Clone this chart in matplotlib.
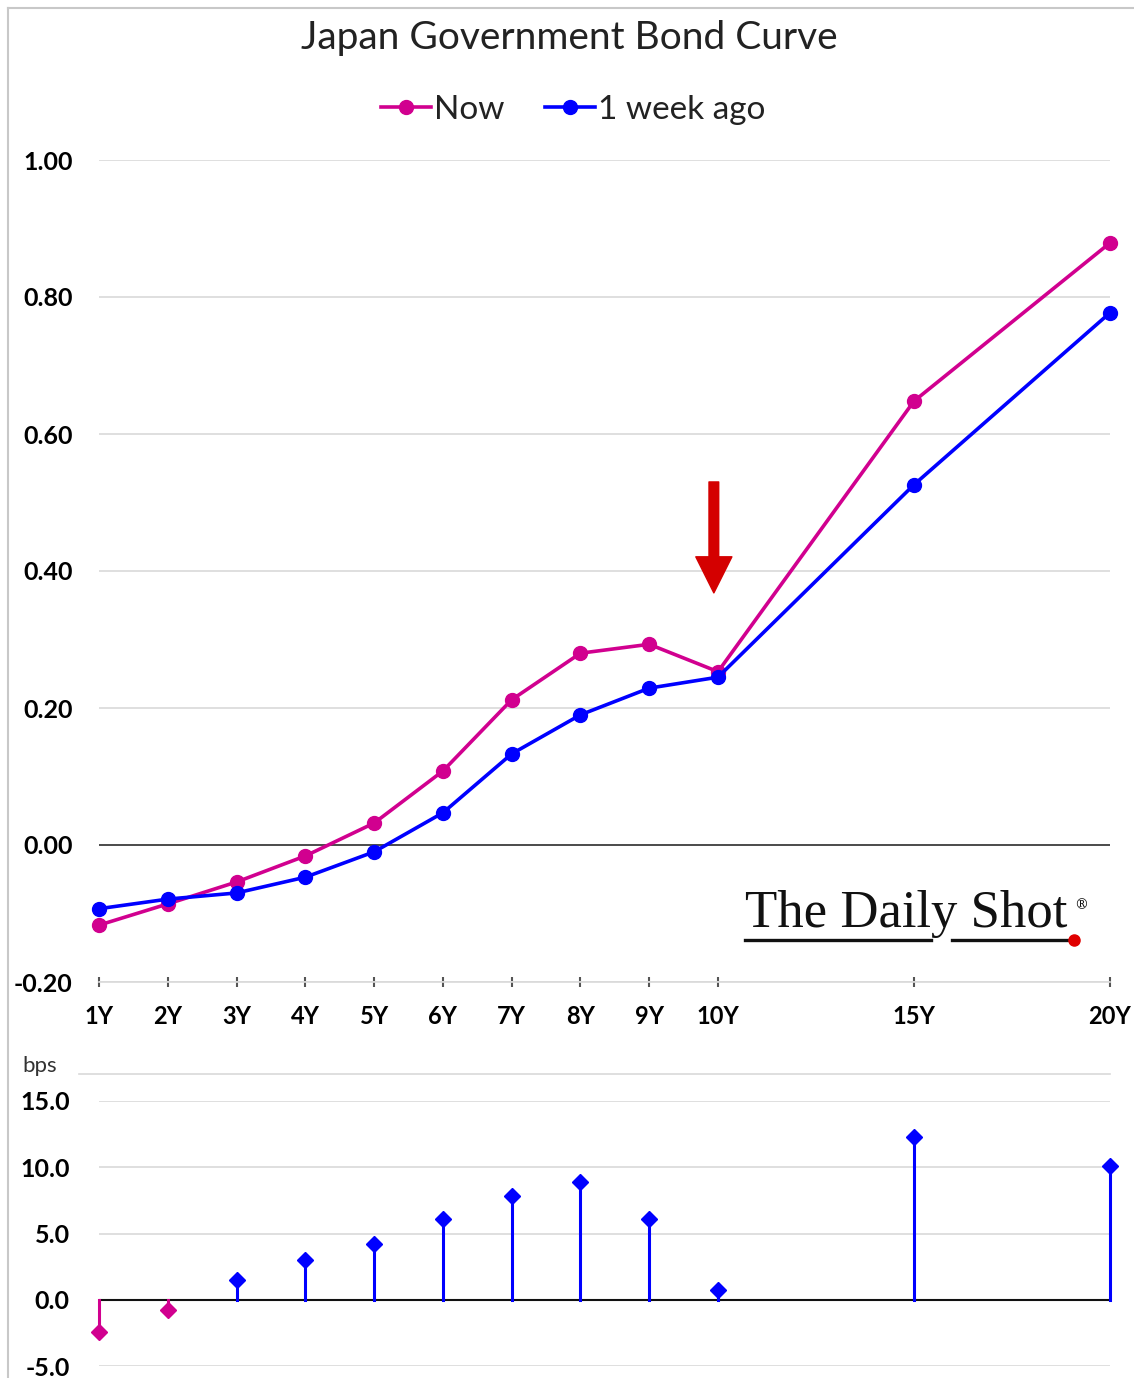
import numpy as np
import matplotlib.pyplot as plt
from matplotlib.lines import Line2D

plt.rcParams['font.family'] = ['Lato', 'DejaVu Sans']

# data
tenors = [1, 2, 3, 4, 5, 6, 7, 8, 9, 10, 15, 20]
labels = ['1Y', '2Y', '3Y', '4Y', '5Y', '6Y', '7Y', '8Y', '9Y', '10Y', '15Y', '20Y']
now = [-0.117, -0.086, -0.054, -0.016, 0.032, 0.108, 0.212, 0.280, 0.293, 0.253, 0.648, 0.879]
week_ago = [-0.093, -0.079, -0.070, -0.047, -0.010, 0.047, 0.133, 0.190, 0.229, 0.245, 0.526, 0.777]
change_bps = [-2.4, -0.8, 1.5, 3.0, 4.2, 6.1, 7.8, 8.9, 6.1, 0.7, 12.3, 10.1]

MAG = '#d1008f'
BLUE = '#0000ff'
GRID = '#d9d9d9'


def pos(t):
    # long end of the curve is squeezed on the x axis
    return t if t <= 10 else 10 + (t - 10) * 0.57


x = np.array([pos(t) for t in tenors])

fig = plt.figure(figsize=(11.34, 13.78), dpi=100)
W, H = 1134, 1378

# frame lines
fig.add_artist(Line2D([8 / W, 8 / W], [0, 1 - 8 / H], color='#c8c8c8', lw=1.5))
fig.add_artist(Line2D([8 / W, 1], [1 - 8 / H, 1 - 8 / H], color='#c8c8c8', lw=1.5))

# ---- top chart
ax = fig.add_axes([99 / W, 1 - 982 / H, (1110 - 99) / W, (982 - 160) / H])
ax.set_xlim(1, 15.7)
ax.set_ylim(-0.2, 1.0)
ax.set_yticks([-0.2, 0, 0.2, 0.4, 0.6, 0.8, 1.0])
ax.set_yticklabels(['%.2f' % v for v in [-0.2, 0, 0.2, 0.4, 0.6, 0.8, 1.0]])
ax.yaxis.grid(True, color=GRID, lw=1.2)
ax.set_axisbelow(True)
for s in ['top', 'right', 'left']:
    ax.spines[s].set_visible(False)
ax.spines['bottom'].set_color(GRID)
ax.spines['bottom'].set_linewidth(1.2)
ax.axhline(0, color='#333333', lw=1.2, zorder=1)
ax.tick_params(axis='y', length=0, pad=19, labelsize=18)
ax.tick_params(axis='x', direction='inout', length=7, width=1.5, color='#555555',
               pad=13, labelsize=17)
ax.set_xticks(x)
ax.set_xticklabels(labels)
for lab in ax.get_xticklabels() + ax.get_yticklabels():
    lab.set_fontweight('bold')

ax.plot(x, now, color=MAG, lw=2.6, marker='o', ms=10, label='Now', clip_on=False, zorder=3)
ax.plot(x, week_ago, color=BLUE, lw=2.6, marker='o', ms=10, label='1 week ago',
        clip_on=False, zorder=4)

ax.annotate('', xy=(pos(10) - 0.06, 0.368), xytext=(pos(10) - 0.06, 0.53),
            arrowprops=dict(width=7, headwidth=26, headlength=26, color='#d40000', shrink=0))

fig.text(569 / W, 1 - 38 / H, 'Japan Government Bond Curve', ha='center', va='center',
         fontsize=28, color='#222222')
fig.legend(loc='center', bbox_to_anchor=(573 / W, 1 - 110 / H), ncol=2, frameon=False,
           fontsize=24, handlelength=1.5, handletextpad=0.1, columnspacing=1.2,
           labelcolor='#222222')

# logo
fig.text(745 / W, 1 - 914 / H, 'The Daily Shot', ha='left', va='center',
         fontsize=38, family='Liberation Serif', color='#111111')
fig.text(1074 / W, 1 - 905 / H, '\u00ae', ha='left', va='center', fontsize=10,
         family='DejaVu Serif', color='#111111')
fig.add_artist(Line2D([745 / W, 931 / W], [1 - 940 / H, 1 - 940 / H], color='#111111', lw=2.4))
fig.add_artist(Line2D([952 / W, 1068 / W], [1 - 940 / H, 1 - 940 / H], color='#111111', lw=2.4))
fig.add_artist(Line2D([1074 / W], [1 - 940 / H], marker='o', ms=8, color='#e00000', lw=0))

# ---- bottom chart
bx = fig.add_axes([99 / W, 1 - 1366 / H, (1110 - 99) / W, (1366 - 1101) / H])
bx.set_xlim(1, 15.7)
bx.set_ylim(-5, 15)
bx.set_yticks([-5, 0, 5, 10, 15])
bx.set_yticklabels(['%.1f' % v for v in [-5, 0, 5, 10, 15]])
bx.yaxis.grid(True, color=GRID, lw=1.2)
bx.set_axisbelow(True)
for s in bx.spines.values():
    s.set_visible(False)
bx.set_xticks([])
bx.tick_params(axis='y', length=0, pad=21, labelsize=18)
for lab in bx.get_yticklabels():
    lab.set_fontweight('bold')
bx.axhline(0, color='#111111', lw=1.5, zorder=2)
for xi, v in zip(x, change_bps):
    c = MAG if v < 0 else BLUE
    bx.plot([xi, xi], [0, v], color=c, lw=2.2, zorder=3, clip_on=False)
    bx.plot([xi], [v], marker='D', ms=8, color=c, zorder=4, clip_on=False)

fig.add_artist(Line2D([79 / W, 1110 / W], [1 - 1074 / H, 1 - 1074 / H], color=GRID, lw=1.2))
fig.text(22 / W, 1 - 1066 / H, 'bps', ha='left', va='center', fontsize=16, color='#333333')

fig.savefig('out.png', dpi=100)
